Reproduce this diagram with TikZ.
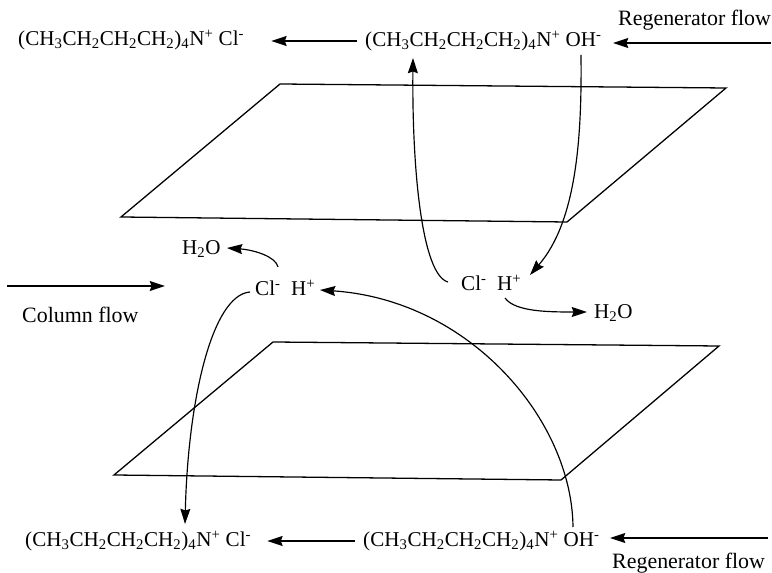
\documentclass[tikz,border=0pt]{standalone}
\usepackage{fontspec}
\setmainfont{Liberation Serif}
\usetikzlibrary{arrows.meta}
\newcommand{\amine}{(CH\textsubscript{3}CH\textsubscript{2}CH\textsubscript{2}CH\textsubscript{2})\textsubscript{4}N\textsuperscript{+}}
\begin{document}
\begin{tikzpicture}[
    x=0.03cm, y=-0.03cm,
    >={Stealth[length=13pt,width=8.5pt,inset=1.5pt]},
    every node/.style={font=\fontsize{18}{20}\selectfont, inner sep=0pt},
    flowlabel/.style={font=\fontsize{18.7}{20}\selectfont},
    arrow/.style={->, line width=1pt},
    plate/.style={line width=1.1pt},
]
\useasboundingbox (0,0) rectangle (772,573);
% top plate
\draw[plate] (280,84) -- (726,88) -- (567,222) -- (121,217) -- cycle;
% bottom plate
\draw[plate] (273,342) -- (719,346) -- (561,480) -- (114,475) -- cycle;
% species
\node[anchor=west] (cl_top) at (18,40) {\amine\ Cl\textsuperscript{-}};
\node[anchor=west] (oh_top) at (365,41) {\amine\ OH\textsuperscript{-}};
\node[anchor=west] (cl_bot) at (25,541) {\amine\ Cl\textsuperscript{-}};
\node[anchor=west] (oh_bot) at (363,541) {\amine\ OH\textsuperscript{-}};
\node[anchor=west] (ion_right) at (461,283) {Cl\textsuperscript{-}\ \ H\textsuperscript{+}};
\node[anchor=west] (ion_left) at (255,288) {Cl\textsuperscript{-}\ \ H\textsuperscript{+}};
\node[anchor=west] (water_left) at (182,249) {H\textsubscript{2}O};
\node[anchor=west] (water_right) at (594,313) {H\textsubscript{2}O};
\node[anchor=west, flowlabel] (regen_top) at (618,20) {Regenerator flow};
\node[anchor=west, flowlabel] (regen_bot) at (612,563) {Regenerator flow};
\node[anchor=west, flowlabel] (column) at (22,315) {Column flow};
% free ends
\coordinate (regen_top_in) at (771,43);
\coordinate (regen_bot_in) at (768,538);
\coordinate (column_in) at (7,286);
\coordinate (column_out) at (165,286);
\coordinate (regen_top_out) at (613,43);
\coordinate (regen_bot_out) at (610,538);
% flows
\draw[arrow] ([shift={(-8,0)}]oh_top.west) -- ([shift={(27,1)}]cl_top.east);
\draw[arrow] (regen_top_in) -- (regen_top_out);
\draw[arrow] ([shift={(-8,0)}]oh_bot.west) -- ([shift={(16,0)}]cl_bot.east);
\draw[arrow] (regen_bot_in) -- (regen_bot_out);
\draw[arrow] (column_in) -- (column_out);
% curved
\draw[arrow] ([shift={(-13,-1)}]ion_right.west) .. controls (422,275) and (412,170) .. ([shift={(48,17)}]oh_top.west);
\draw[arrow] ([shift={(216,14)}]oh_top.west) .. controls (582,140) and (576,222) .. ([shift={(69,-8)}]ion_right.west);
\draw[arrow] ([shift={(44,15)}]ion_right.west) .. controls (515,312) and (550,312) .. ([shift={(-7,-1)}]water_right.west);
\draw[arrow] ([shift={(23,-21)}]ion_left.west) .. controls (276,257) and (255,250) .. ([shift={(45,-1)}]water_left.west);
\draw[arrow] ([shift={(-5,4)}]ion_left.west) .. controls (212,295) and (188,400) .. ([shift={(160,-17)}]cl_bot.west);
\draw[arrow] ([shift={(210,-14)}]oh_bot.west) .. controls (572,420) and (470,300) .. ([shift={(65,2)}]ion_left.west);
\end{tikzpicture}
\end{document}
